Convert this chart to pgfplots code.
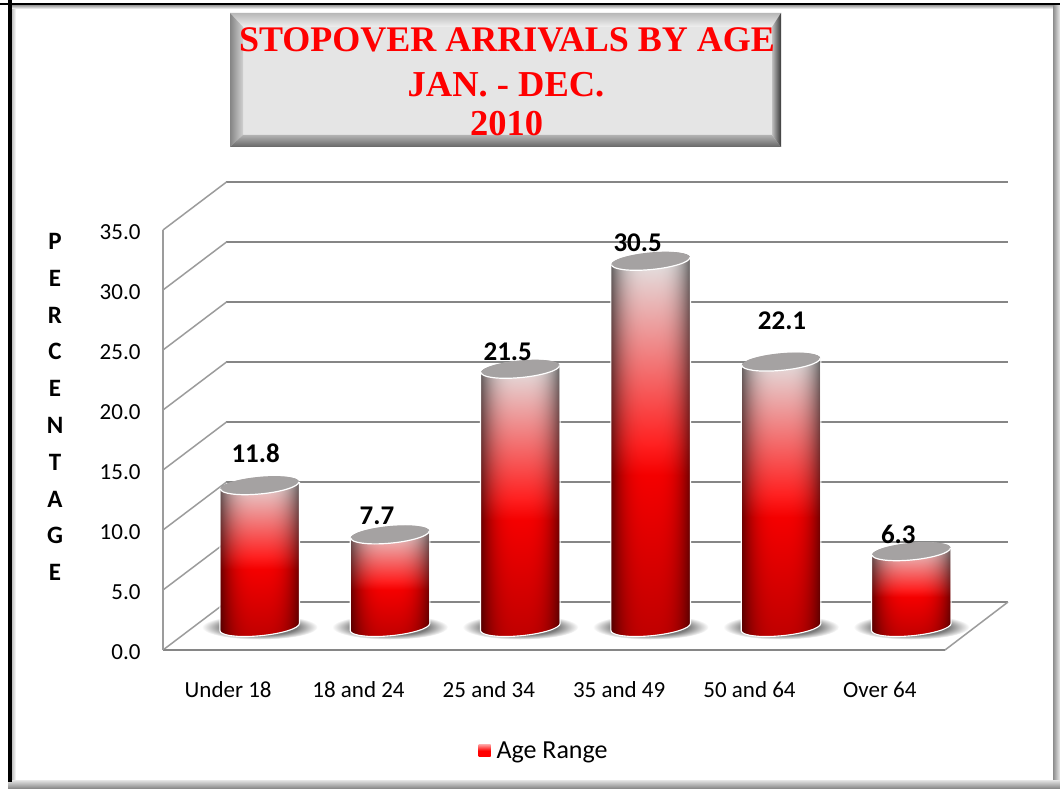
\documentclass[border=0pt]{standalone}
\usepackage{fontspec}
\setmainfont{Carlito}
\newfontfamily\titlefont{Liberation Serif}[Ligatures=TeX]
\usepackage{pgfplots}
\pgfplotsset{compat=1.18}
\definecolor{gridgray}{HTML}{868686}
\definecolor{wallgray}{HTML}{9C9C9C}
\definecolor{capgray}{HTML}{A5A2A2}
\pgfdeclarefunctionalshading{cyl}{\pgfpoint{-50bp}{-50bp}}{\pgfpoint{50bp}{50bp}}{}{
  25 add 50 div
  exch 25 div abs 3 exp 0.55 mul 1 exch sub
  exch
  dup dup 0.5 lt {0.5 mul 0.75 add}{0.5 sub 0.24 mul 1 exch sub} ifelse
  exch
  0.42 sub 1.6 mul dup 0 lt {pop 0} if dup 0.86 gt {pop 0.86} if
  2 index mul dup
  3 -1 roll
  4 -1 roll mul
  3 1 roll
}
\pgfdeclareradialshading{floorshadow}{\pgfpoint{0bp}{0bp}}{
  color(0bp)=(black!52); color(16bp)=(black!52); color(25bp)=(white); color(50bp)=(white)}
\pgfdeclareplotmark{cylinder}{%
  \pgfmathsetmacro{\barh}{\barval*12}%
  \path[draw=none,shading=floorshadow] (0pt,-\barh pt) ellipse [x radius=58pt, y radius=12.5pt];
  \pgfscope
  \pgftransformyslant{0.09}%
  \path[draw=none,shading=cyl] (-39.2pt,0pt) -- ++(0pt,-\barh pt)
     arc[start angle=180,end angle=360,x radius=39.2pt,y radius=8.4pt]
     -- ++(0pt,\barh pt)
     arc[start angle=0,end angle=180,x radius=39.2pt,y radius=8.4pt] -- cycle;
  \draw[white,line width=1.1pt] (-39.8pt,0pt) -- ++(0pt,-\barh pt)
     arc[start angle=180,end angle=360,x radius=39.8pt,y radius=8.8pt] -- ++(0pt,\barh pt);
  \path[draw=none,fill=capgray] (0pt,0pt) ellipse [x radius=39.2pt, y radius=8.6pt];
  \draw[white,line width=1.2pt] (-39.2pt,0pt)
     arc[start angle=180,end angle=360,x radius=39.2pt,y radius=8.6pt];
  \endpgfscope
}
\begin{document}
\begin{tikzpicture}[x=1pt,y=1pt]
\path[use as bounding box] (0,0) rectangle (1060,788);
% frame
\fill[white] (0,0) rectangle (1060,788);
\shade[left color=gray!60,right color=white] (11,0) rectangle (16,782);
\shade[top color=gray!60,bottom color=white] (11,782) rectangle (1053,779);
\shade[left color=gray!90,right color=gray!15] (1053,0) rectangle (1060,782);
\shade[top color=gray!20,bottom color=gray!90] (8,8) rectangle (1060,0);
\fill[black] (8,6) rectangle (11.5,788);
\fill[black] (0,782.5) rectangle (1060,785);
% title box
\fill[black!10] (230,641) rectangle (781,775);
\shade[top color=black!28,bottom color=black!6] (230,775) -- (781,775) -- (772,761) -- (243,761) -- cycle;
\shade[left color=black!48,right color=black!18] (230,775) -- (243,761) -- (243,653) -- (230,641) -- cycle;
\shade[top color=black!30,bottom color=black!60] (230,641) -- (243,653) -- (772,653) -- (781,641) -- cycle;
\shade[left color=black!25,right color=black!78] (781,775) -- (772,761) -- (772,653) -- (781,641) -- cycle;
\node[anchor=base,text=red,inner sep=0] at (507,736) {\titlefont\bfseries\fontsize{36}{40}\selectfont STOPOVER ARRIVALS BY AGE};
\node[anchor=base,text=red,inner sep=0] at (506,691.5) {\titlefont\bfseries\fontsize{36.5}{40}\selectfont JAN. - DEC.};
\node[anchor=base,text=red,inner sep=0] at (506.5,652) {\titlefont\bfseries\fontsize{36.5}{40}\selectfont 2010};
% back wall grid
\begin{axis}[name=gridax,at={(226pt,186pt)},anchor=south west,scale only axis,width=782pt,height=420pt,
  xmin=-0.5,xmax=5.5,ymin=0,ymax=35,xtick=\empty,ytick={0,5,...,35},yticklabels={},
  axis line style={draw=none},major tick length=0,ymajorgrids,
  grid style={gridgray,line width=1.9}]
\end{axis}
% side wall and floor diagonals
\foreach \yy in {138,198,...,558}
  \draw[wallgray,line width=1.5] (163,\yy) -- (226.5,\yy+48);
\draw[wallgray,line width=1.5] (945,138) -- (1008,186);
% front axis with ticks
\begin{axis}[at={(163pt,138pt)},anchor=south west,scale only axis,width=782pt,height=420pt,
  xmin=-0.5,xmax=5.5,ymin=0,ymax=35,
  axis x line*=bottom,axis y line*=left,
  x axis line style={gridgray,line width=2,-},
  y axis line style={wallgray,line width=1.3,-},
  major tick length=0,
  xtick={0,1,2,3,4,5},
  xticklabels={Under 18,18 and 24,25 and 34,35 and 49,50 and 64,Over 64},
  ytick={0,5,...,35},
  /pgf/number format/assume math mode=true,
  /pgf/number format/fixed,/pgf/number format/fixed zerofill,/pgf/number format/precision=1,
  yticklabel style={font=\fontsize{23}{26}\selectfont,anchor=east,xshift=-19,yshift=-2},
  xticklabel style={font=\fontsize{23}{26}\selectfont,anchor=center,yshift=-40},
]
\end{axis}
\node[align=center,inner sep=0,anchor=center,font=\fontsize{25}{36.8}\selectfont\bfseries] at (55,381) {P\\E\\R\\C\\E\\N\\T\\A\\G\\E};
% cylinders
\begin{axis}[at={(194.5pt,161pt)},anchor=south west,scale only axis,width=782pt,height=420pt,
  xmin=-0.5,xmax=5.5,ymin=0,ymax=35,clip=false,
  axis line style={draw=none},xtick=\empty,ytick=\empty,
  legend style={at={(0.447,-0.2945)},anchor=center,draw=none,fill=none,
     font=\fontsize{26}{28}\selectfont,legend columns=2,
     /tikz/every odd column/.append style={column sep=4pt}},
  legend image code/.code={\path[draw=none,top color=red!40,bottom color=red,middle color=red] (0pt,-6pt) rectangle (12pt,6pt);},
]
\addplot+[only marks,scatter,mark=cylinder,
  point meta=explicit,
  visualization depends on={value \thisrow{v} \as \barval},
  visualization depends on={value \thisrow{dx} \as \labdx},
  visualization depends on={value \thisrow{dy} \as \labdy},
  nodes near coords,
  nodes near coords style={anchor=center,xshift=\labdx pt,yshift=\labdy pt,text=black,
     font=\fontsize{27}{30}\selectfont\bfseries,
     /pgf/number format/assume math mode=true,
     /pgf/number format/fixed,/pgf/number format/fixed zerofill,/pgf/number format/precision=1},
] table[x=x,y=v,meta=v] {
x v dx dy
0 11.8 -4 32
1 7.7 -13 18.6
2 21.5 -12.6 17
3 30.5 -13 18
4 22.1 1 41
5 6.3 -13 17.4
};
\addlegendentry{Age Range}
\end{axis}
\end{tikzpicture}
\end{document}
